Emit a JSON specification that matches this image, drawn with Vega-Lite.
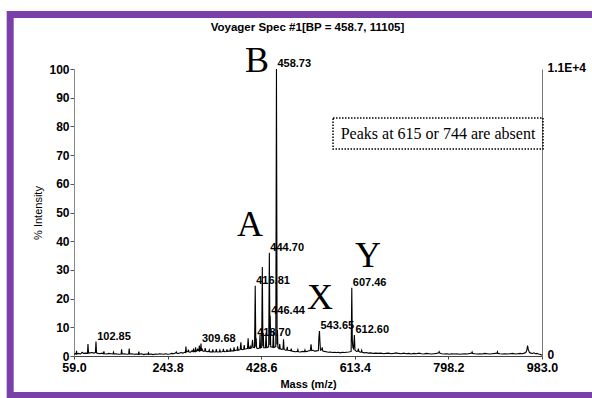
{
  "$schema": "https://vega.github.io/schema/vega-lite/v6.json",
  "width": 468,
  "height": 287,
  "autosize": {"type": "none"},
  "padding": {"left": 74, "top": 69, "right": 50, "bottom": 42},
  "background": "white",
  "config": {"view": {"stroke": null}, "axis": {"labelFont": "Liberation Sans", "titleFont": "Liberation Sans", "labelColor": "black", "titleColor": "black", "grid": false}},
  "datasets": {
    "spec": [
      {"m":59,"i":0.6},{"m":62,"i":0.8},{"m":63.2,"i":0.7},{"m":64,"i":1.8},{"m":64.8,"i":0.7},{"m":68,"i":0.9},{"m":72,"i":0.7},{"m":75,"i":1.3},{"m":78,"i":0.9},{"m":82,"i":1.0},
      {"m":85.5,"i":0.9},{"m":86.6,"i":4.2},{"m":87.7,"i":1.0},{"m":91,"i":1.1},{"m":95,"i":1.2},{"m":98,"i":1.0},{"m":101.3,"i":1.2},{"m":102.4,"i":5.0},{"m":103.5,"i":1.1},{"m":106,"i":0.9},
      {"m":110,"i":0.8},{"m":114,"i":1.0},{"m":117,"i":0.8},{"m":118,"i":1.6},{"m":119,"i":0.8},{"m":123,"i":0.7},{"m":128,"i":0.9},{"m":132,"i":0.8},{"m":136,"i":0.7},{"m":137,"i":1.3},
      {"m":138,"i":0.7},{"m":142,"i":0.8},{"m":147,"i":0.6},{"m":152,"i":0.7},{"m":153,"i":2.3},{"m":154,"i":0.7},{"m":158,"i":0.8},{"m":163,"i":0.6},{"m":167,"i":0.7},{"m":168,"i":2.6},
      {"m":169,"i":0.7},{"m":173,"i":0.8},{"m":178,"i":0.6},{"m":182,"i":0.7},{"m":186,"i":0.6},{"m":187,"i":1.5},{"m":188,"i":0.6},{"m":192,"i":0.8},{"m":197,"i":0.5},{"m":201,"i":0.7},
      {"m":205,"i":0.6},{"m":206,"i":1.1},{"m":207,"i":0.6},{"m":211,"i":0.7},{"m":215,"i":0.5},{"m":220,"i":0.7},{"m":224,"i":0.6},{"m":228,"i":0.8},{"m":232,"i":0.7},{"m":236,"i":0.6},
      {"m":240,"i":0.8},{"m":244,"i":0.6},{"m":248,"i":0.7},{"m":252,"i":0.9},{"m":256,"i":0.8},{"m":260,"i":1.1},{"m":261,"i":1.4},{"m":262,"i":1.0},{"m":266,"i":0.9},{"m":270,"i":1.2},
      {"m":274,"i":1.0},{"m":277,"i":1.3},{"m":279,"i":1.2},{"m":280,"i":3.3},{"m":281,"i":1.4},{"m":284,"i":1.6},{"m":285,"i":2.2},{"m":286,"i":1.4},{"m":289,"i":1.3},{"m":292,"i":1.8},
      {"m":294,"i":1.5},{"m":295,"i":2.6},{"m":296,"i":1.6},{"m":298,"i":1.5},{"m":299,"i":3.0},{"m":300,"i":1.6},{"m":302,"i":1.8},{"m":303,"i":2.6},{"m":304,"i":1.9},{"m":305.5,"i":1.8},
      {"m":306.5,"i":3.6},{"m":307.5,"i":1.7},{"m":308.7,"i":1.9},{"m":309.7,"i":4.3},{"m":310.7,"i":1.8},{"m":312,"i":2.4},{"m":314,"i":1.6},{"m":317,"i":1.7},{"m":318,"i":2.8},{"m":319,"i":1.7},
      {"m":322,"i":1.5},{"m":325,"i":1.6},{"m":326,"i":2.1},{"m":327,"i":1.4},{"m":330,"i":1.5},{"m":332,"i":1.4},{"m":333,"i":2.3},{"m":334,"i":1.5},{"m":337,"i":1.4},{"m":339,"i":1.5},
      {"m":340,"i":2.4},{"m":341,"i":1.5},{"m":344,"i":1.4},{"m":346,"i":1.5},{"m":347,"i":2.1},{"m":348,"i":1.4},{"m":351,"i":1.5},{"m":353,"i":1.6},{"m":354,"i":2.5},{"m":355,"i":1.6},
      {"m":358,"i":1.5},{"m":360,"i":1.6},{"m":361,"i":2.3},{"m":362,"i":1.6},{"m":365,"i":1.7},{"m":367,"i":1.7},{"m":368,"i":2.7},{"m":369,"i":1.7},{"m":372,"i":1.8},{"m":374,"i":1.8},
      {"m":375,"i":3.0},{"m":376,"i":1.9},{"m":379,"i":2.0},{"m":381,"i":2.0},{"m":382,"i":3.4},{"m":383,"i":2.0},{"m":385,"i":2.1},{"m":387,"i":2.2},{"m":388.5,"i":4.8},{"m":389.5,"i":2.3},
      {"m":392,"i":2.2},{"m":394,"i":2.4},{"m":395,"i":3.8},{"m":396,"i":2.4},{"m":399,"i":2.5},{"m":401.5,"i":2.6},{"m":402.8,"i":6.2},{"m":404,"i":2.6},{"m":406,"i":2.7},{"m":407,"i":3.3},
      {"m":408,"i":2.7},{"m":410,"i":3.0},{"m":411.5,"i":5.6},{"m":412.7,"i":3.0},{"m":415.5,"i":2.9},{"m":416.8,"i":24.5},{"m":418,"i":3.2},{"m":418.7,"i":6.2},{"m":419.6,"i":2.8},{"m":422,"i":2.6},
      {"m":425.3,"i":2.8},{"m":426.3,"i":7.5},{"m":427.3,"i":2.8},{"m":429.5,"i":3.0},{"m":430.8,"i":31},{"m":432,"i":3.4},{"m":432.7,"i":8.0},{"m":433.6,"i":2.9},{"m":437,"i":2.9},{"m":438.2,"i":8.0},
      {"m":439.4,"i":2.9},{"m":443.4,"i":3.2},{"m":444.7,"i":36},{"m":446,"i":3.8},{"m":446.4,"i":14},{"m":447.4,"i":3.2},{"m":451.5,"i":3.0},{"m":452.6,"i":8.5},{"m":453.7,"i":3.0},{"m":457.4,"i":3.3},
      {"m":458.73,"i":100},{"m":460,"i":4.0},{"m":460.7,"i":9},{"m":461.6,"i":3.0},{"m":464,"i":2.6},{"m":465.2,"i":4.2},{"m":466.2,"i":2.5},{"m":469,"i":2.3},{"m":471.6,"i":2.4},{"m":472.7,"i":5.8},
      {"m":473.8,"i":2.3},{"m":477,"i":2.0},{"m":479,"i":2.1},{"m":480,"i":3.2},{"m":481,"i":2.0},{"m":485,"i":1.9},{"m":487,"i":1.8},{"m":488,"i":2.6},{"m":489,"i":1.7},{"m":492,"i":1.6},
      {"m":496,"i":1.5},{"m":500,"i":1.6},{"m":501,"i":2.2},{"m":502,"i":1.5},{"m":506,"i":1.4},{"m":510,"i":1.6},{"m":514,"i":1.5},{"m":515,"i":2.1},{"m":516,"i":1.5},{"m":519,"i":1.6},
      {"m":522,"i":1.8},{"m":525.5,"i":1.9},{"m":527,"i":4.1},{"m":528.3,"i":1.9},{"m":531,"i":2.0},{"m":534,"i":1.7},{"m":538,"i":1.8},{"m":541.5,"i":1.9},{"m":542.5,"i":6.5},{"m":543.65,"i":8.7},
      {"m":544.6,"i":5.0},{"m":545.6,"i":2.0},{"m":548,"i":2.2},{"m":549,"i":3.0},{"m":550,"i":1.8},{"m":553,"i":1.6},{"m":557,"i":1.5},{"m":561,"i":1.3},{"m":565,"i":1.4},{"m":569,"i":1.2},
      {"m":573,"i":1.3},{"m":577,"i":1.2},{"m":581,"i":1.3},{"m":585,"i":1.1},{"m":589,"i":1.3},{"m":593,"i":1.2},{"m":597,"i":1.3},{"m":601,"i":1.4},{"m":604,"i":1.5},{"m":606.2,"i":1.6},
      {"m":607.46,"i":23.8},{"m":608.5,"i":5.5},{"m":609.5,"i":3.0},{"m":611,"i":2.5},{"m":612.6,"i":7.3},{"m":613.8,"i":2.0},{"m":617,"i":1.6},{"m":619.5,"i":1.7},{"m":620.5,"i":2.6},{"m":621.5,"i":1.6},
      {"m":624,"i":1.3},{"m":626,"i":1.4},{"m":627,"i":2.0},{"m":628,"i":1.3},{"m":632,"i":1.1},{"m":636,"i":1.2},{"m":640,"i":1.0},{"m":645,"i":1.1},{"m":650,"i":0.9},{"m":655,"i":1.0},
      {"m":660,"i":0.9},{"m":665,"i":1.0},{"m":670,"i":0.8},{"m":675,"i":0.9},{"m":680,"i":1.0},{"m":685,"i":0.8},{"m":690,"i":0.9},{"m":695,"i":1.1},{"m":700,"i":0.9},{"m":705,"i":0.8},
      {"m":710,"i":1.0},{"m":715,"i":0.8},{"m":720,"i":0.9},{"m":725,"i":0.7},{"m":730,"i":0.9},{"m":735,"i":0.8},{"m":740,"i":1.0},{"m":745,"i":0.8},{"m":750,"i":0.7},{"m":755,"i":0.9},
      {"m":760,"i":0.8},{"m":765,"i":0.7},{"m":770,"i":0.8},{"m":775,"i":0.9},{"m":779,"i":1.1},{"m":780,"i":1.5},{"m":781,"i":1.0},{"m":785,"i":0.8},{"m":790,"i":0.7},{"m":795,"i":0.8},
      {"m":800,"i":0.6},{"m":805,"i":0.8},{"m":810,"i":0.7},{"m":815,"i":0.8},{"m":820,"i":0.6},{"m":825,"i":0.7},{"m":830,"i":0.8},{"m":835,"i":0.7},{"m":840,"i":0.9},{"m":844,"i":1.0},
      {"m":845,"i":1.4},{"m":846,"i":0.9},{"m":850,"i":0.8},{"m":855,"i":0.7},{"m":860,"i":0.8},{"m":865,"i":0.7},{"m":870,"i":0.9},{"m":875,"i":0.8},{"m":880,"i":0.7},{"m":885,"i":0.8},
      {"m":890,"i":0.9},{"m":894,"i":1.0},{"m":895,"i":1.5},{"m":896,"i":0.9},{"m":900,"i":0.8},{"m":905,"i":0.7},{"m":910,"i":0.8},{"m":915,"i":0.7},{"m":920,"i":0.8},{"m":925,"i":0.9},
      {"m":930,"i":0.7},{"m":935,"i":0.8},{"m":940,"i":0.9},{"m":944,"i":0.8},{"m":948,"i":1.0},{"m":951,"i":1.2},{"m":953,"i":2.0},{"m":954.5,"i":3.6},{"m":956,"i":2.2},{"m":958,"i":1.3},
      {"m":961,"i":1.0},{"m":964,"i":0.9},{"m":967,"i":1.1},{"m":970,"i":0.8},{"m":973,"i":0.9},{"m":976,"i":0.7},{"m":979,"i":0.6},{"m":983,"i":0.3}
    ],
    "labels": [
      {"m":102.85,"i":5.0,"t":"102.85"},
      {"m":309.68,"i":4.3,"t":"309.68"},
      {"m":416.81,"i":24.5,"t":"416.81"},
      {"m":418.70,"i":6.2,"t":"418.70"},
      {"m":444.70,"i":36,"t":"444.70"},
      {"m":446.44,"i":14,"t":"446.44"},
      {"m":458.73,"i":100,"t":"458.73"},
      {"m":543.65,"i":8.7,"t":"543.65"},
      {"m":607.46,"i":23.8,"t":"607.46"},
      {"m":612.60,"i":7.3,"t":"612.60"}
    ],
    "letters": [
      {"m":420.3,"i":102.8,"t":"B"},
      {"m":406.5,"i":45.6,"t":"A"},
      {"m":544.7,"i":20.2,"t":"X"},
      {"m":639.5,"i":34.8,"t":"Y"}
    ],
    "note": [
      {"m":777.7,"i":77.5,"t":"Peaks at 615 or 744 are absent"}
    ],
    "heading": [
      {"m":520,"i":114.3,"t":"Voyager Spec #1[BP = 458.7, 11105]"}
    ]
  },
  "layer": [
    {
      "layer": [
        {
          "data": {"values": [{"frame": 1}]},
          "mark": {"type": "rect", "filled": false, "stroke": "#7b3fa9", "strokeWidth": 7, "clip": false},
          "encoding": {
            "x": {"datum": -67, "type": "quantitative", "scale": {"domain": [59, 983], "nice": false, "zero": false},
              "axis": {"title": "Mass (m/z)", "values": [59, 243.8, 428.6, 613.4, 798.2, 983], "format": ".1f", "labelFlush": false, "labelOverlap": false, "tickSize": 3, "labelPadding": 2, "labelFontSize": 12.5, "labelFontWeight": "bold", "titleFontSize": 11, "titleFontWeight": "bold", "titlePadding": 5, "domainColor": "#444", "tickColor": "#444"}},
            "x2": {"datum": 1250},
            "y": {"datum": 119, "type": "quantitative", "scale": {"domain": [0, 100], "nice": false, "zero": false},
              "axis": {"title": "% Intensity", "values": [0, 10, 20, 30, 40, 50, 60, 70, 80, 90, 100], "labelOverlap": false, "tickSize": 4, "labelPadding": 1, "labelFontSize": 12, "labelFontWeight": "bold", "titleFontSize": 11, "titleFontWeight": "normal", "titlePadding": 5, "domainColor": "#888", "tickColor": "#555"}},
            "y2": {"datum": -13.8}
          }
        },
        {
          "data": {"name": "heading"},
          "mark": {"type": "text", "align": "center", "baseline": "middle", "font": "Liberation Sans", "fontSize": 11.5, "fontWeight": "bold", "color": "black"},
          "encoding": {
            "x": {"field": "m", "type": "quantitative", "scale": {"domain": [59, 983], "nice": false, "zero": false},
              "axis": {"title": "Mass (m/z)", "values": [59, 243.8, 428.6, 613.4, 798.2, 983], "format": ".1f", "labelFlush": false, "labelOverlap": false, "tickSize": 3, "labelPadding": 2, "labelFontSize": 12.5, "labelFontWeight": "bold", "titleFontSize": 11, "titleFontWeight": "bold", "titlePadding": 5, "domainColor": "#444", "tickColor": "#444"}},
            "y": {"field": "i", "type": "quantitative", "scale": {"domain": [0, 100], "nice": false, "zero": false},
              "axis": {"title": "% Intensity", "values": [0, 10, 20, 30, 40, 50, 60, 70, 80, 90, 100], "labelOverlap": false, "tickSize": 4, "labelPadding": 1, "labelFontSize": 12, "labelFontWeight": "bold", "titleFontSize": 11, "titleFontWeight": "normal", "titlePadding": 5, "domainColor": "#888", "tickColor": "#555"}},
            "text": {"field": "t"}
          }
        },
        {
          "data": {"name": "spec"},
          "mark": {"type": "line", "color": "black", "strokeWidth": 1.1},
          "encoding": {
            "x": {"field": "m", "type": "quantitative", "scale": {"domain": [59, 983], "nice": false, "zero": false},
              "axis": {"title": "Mass (m/z)", "values": [59, 243.8, 428.6, 613.4, 798.2, 983], "format": ".1f", "labelFlush": false, "labelOverlap": false, "tickSize": 3, "labelPadding": 2, "labelFontSize": 12.5, "labelFontWeight": "bold", "titleFontSize": 11, "titleFontWeight": "bold", "titlePadding": 5, "domainColor": "#444", "tickColor": "#444"}},
            "y": {"field": "i", "type": "quantitative", "scale": {"domain": [0, 100], "nice": false, "zero": false},
              "axis": {"title": "% Intensity", "values": [0, 10, 20, 30, 40, 50, 60, 70, 80, 90, 100], "labelOverlap": false, "tickSize": 4, "labelPadding": 1, "labelFontSize": 12, "labelFontWeight": "bold", "titleFontSize": 11, "titleFontWeight": "normal", "titlePadding": 5, "domainColor": "#888", "tickColor": "#555"}}
          }
        },
        {
          "data": {"name": "labels"},
          "mark": {"type": "text", "align": "left", "baseline": "alphabetic", "dx": 1, "dy": -2, "font": "Liberation Sans", "fontSize": 11, "fontWeight": "bold", "color": "black"},
          "encoding": {
            "x": {"field": "m", "type": "quantitative", "scale": {"domain": [59, 983], "nice": false, "zero": false},
              "axis": {"title": "Mass (m/z)", "values": [59, 243.8, 428.6, 613.4, 798.2, 983], "format": ".1f", "labelFlush": false, "labelOverlap": false, "tickSize": 3, "labelPadding": 2, "labelFontSize": 12.5, "labelFontWeight": "bold", "titleFontSize": 11, "titleFontWeight": "bold", "titlePadding": 5, "domainColor": "#444", "tickColor": "#444"}},
            "y": {"field": "i", "type": "quantitative", "scale": {"domain": [0, 100], "nice": false, "zero": false},
              "axis": {"title": "% Intensity", "values": [0, 10, 20, 30, 40, 50, 60, 70, 80, 90, 100], "labelOverlap": false, "tickSize": 4, "labelPadding": 1, "labelFontSize": 12, "labelFontWeight": "bold", "titleFontSize": 11, "titleFontWeight": "normal", "titlePadding": 5, "domainColor": "#888", "tickColor": "#555"}},
            "text": {"field": "t"}
          }
        },
        {
          "data": {"name": "letters"},
          "mark": {"type": "text", "align": "center", "baseline": "middle", "font": "Liberation Serif", "fontSize": 36, "color": "black"},
          "encoding": {
            "x": {"field": "m", "type": "quantitative", "scale": {"domain": [59, 983], "nice": false, "zero": false},
              "axis": {"title": "Mass (m/z)", "values": [59, 243.8, 428.6, 613.4, 798.2, 983], "format": ".1f", "labelFlush": false, "labelOverlap": false, "tickSize": 3, "labelPadding": 2, "labelFontSize": 12.5, "labelFontWeight": "bold", "titleFontSize": 11, "titleFontWeight": "bold", "titlePadding": 5, "domainColor": "#444", "tickColor": "#444"}},
            "y": {"field": "i", "type": "quantitative", "scale": {"domain": [0, 100], "nice": false, "zero": false},
              "axis": {"title": "% Intensity", "values": [0, 10, 20, 30, 40, 50, 60, 70, 80, 90, 100], "labelOverlap": false, "tickSize": 4, "labelPadding": 1, "labelFontSize": 12, "labelFontWeight": "bold", "titleFontSize": 11, "titleFontWeight": "normal", "titlePadding": 5, "domainColor": "#888", "tickColor": "#555"}},
            "text": {"field": "t"}
          }
        },
        {
          "data": {"values": [{"box": 1}]},
          "mark": {"type": "rect", "filled": false, "stroke": "black", "strokeWidth": 1.5, "strokeDash": [1.5, 1.5]},
          "encoding": {
            "x": {"datum": 570.4, "type": "quantitative", "scale": {"domain": [59, 983], "nice": false, "zero": false},
              "axis": {"title": "Mass (m/z)", "values": [59, 243.8, 428.6, 613.4, 798.2, 983], "format": ".1f", "labelFlush": false, "labelOverlap": false, "tickSize": 3, "labelPadding": 2, "labelFontSize": 12.5, "labelFontWeight": "bold", "titleFontSize": 11, "titleFontWeight": "bold", "titlePadding": 5, "domainColor": "#444", "tickColor": "#444"}},
            "x2": {"datum": 985},
            "y": {"datum": 82.9, "type": "quantitative", "scale": {"domain": [0, 100], "nice": false, "zero": false},
              "axis": {"title": "% Intensity", "values": [0, 10, 20, 30, 40, 50, 60, 70, 80, 90, 100], "labelOverlap": false, "tickSize": 4, "labelPadding": 1, "labelFontSize": 12, "labelFontWeight": "bold", "titleFontSize": 11, "titleFontWeight": "normal", "titlePadding": 5, "domainColor": "#888", "tickColor": "#555"}},
            "y2": {"datum": 72.1}
          }
        },
        {
          "data": {"name": "note"},
          "mark": {"type": "text", "align": "center", "baseline": "middle", "font": "Liberation Serif", "fontSize": 16, "color": "black"},
          "encoding": {
            "x": {"field": "m", "type": "quantitative", "scale": {"domain": [59, 983], "nice": false, "zero": false},
              "axis": {"title": "Mass (m/z)", "values": [59, 243.8, 428.6, 613.4, 798.2, 983], "format": ".1f", "labelFlush": false, "labelOverlap": false, "tickSize": 3, "labelPadding": 2, "labelFontSize": 12.5, "labelFontWeight": "bold", "titleFontSize": 11, "titleFontWeight": "bold", "titlePadding": 5, "domainColor": "#444", "tickColor": "#444"}},
            "y": {"field": "i", "type": "quantitative", "scale": {"domain": [0, 100], "nice": false, "zero": false},
              "axis": {"title": "% Intensity", "values": [0, 10, 20, 30, 40, 50, 60, 70, 80, 90, 100], "labelOverlap": false, "tickSize": 4, "labelPadding": 1, "labelFontSize": 12, "labelFontWeight": "bold", "titleFontSize": 11, "titleFontWeight": "normal", "titlePadding": 5, "domainColor": "#888", "tickColor": "#555"}},
            "text": {"field": "t"}
          }
        }
      ]
    },
    {
      "data": {"values": [{"i": 0}]},
      "mark": {"type": "point", "opacity": 0},
      "encoding": {
        "y": {"field": "i", "type": "quantitative", "scale": {"domain": [0, 100], "nice": false, "zero": false},
          "axis": {"orient": "right", "values": [0, 100], "labelExpr": "datum.value == 100 ? '1.1E+4' : '0'", "ticks": false, "title": null, "domainColor": "#777", "labelFontSize": 12, "labelFontWeight": "bold", "labelPadding": 5, "labelOffset": -2}}
      }
    }
  ],
  "resolve": {"axis": {"y": "independent"}}
}
